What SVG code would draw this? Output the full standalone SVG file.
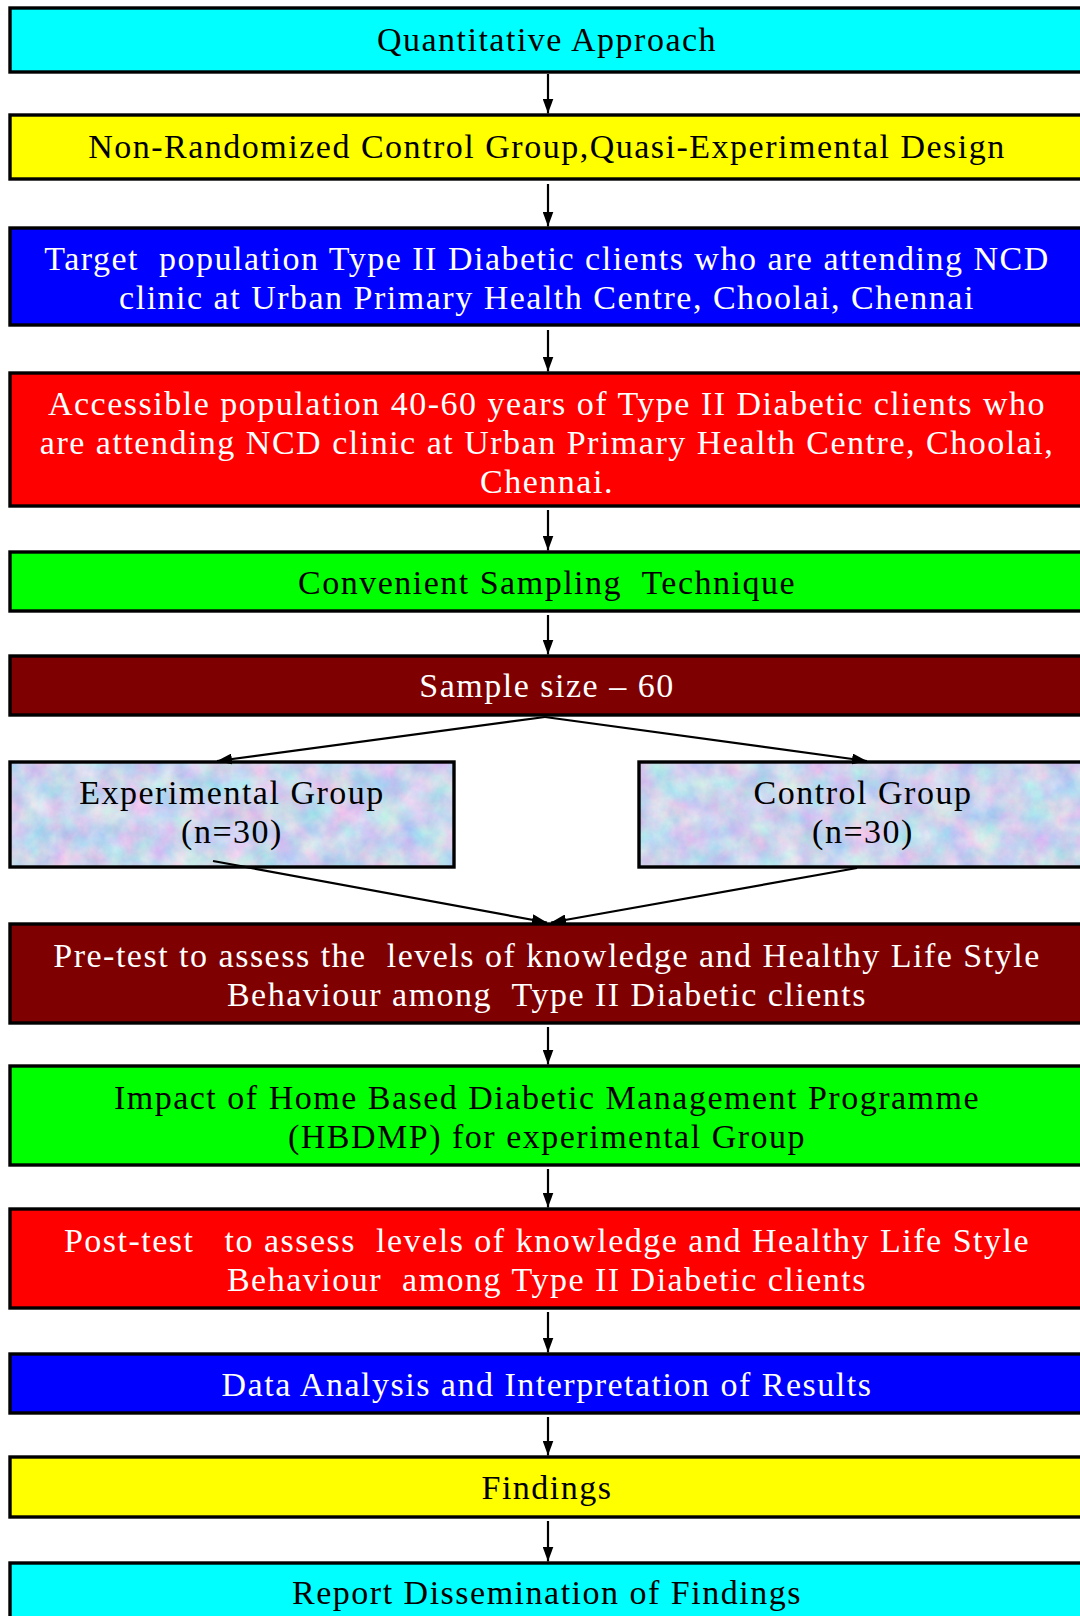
<svg xmlns="http://www.w3.org/2000/svg" width="1080" height="1616" viewBox="0 0 1080 1616">
<style>
.b{stroke:#000;stroke-width:3.4}
.t{font-family:"Liberation Serif","Times New Roman",serif;font-size:34px;letter-spacing:1.5px;text-anchor:middle;white-space:pre}
.w{fill:#fff}
.k{fill:#000}
.c line{stroke:#000;stroke-width:2.2;marker-end:url(#ah)}
</style>
<defs>
<marker id="ah" viewBox="0 0 15 11" refX="15" refY="5.5" markerWidth="15" markerHeight="11" markerUnits="userSpaceOnUse" orient="auto">
<path d="M0,0 L15,5.5 L0,11 z" fill="#000"/>
</marker>
<filter id="marble" x="0" y="0" width="100%" height="100%" color-interpolation-filters="sRGB">
<feTurbulence type="fractalNoise" baseFrequency="0.04" numOctaves="5" seed="7" result="n"/>
<feColorMatrix in="n" type="matrix" values="0.45 0 0 0 0.57  0 0.3 0 0 0.68  0 0 0.1 0 0.88  0 0 0 0 1"/>
</filter>
</defs>
<rect width="1080" height="1616" fill="#fff"/>

<g id="n1"><rect class="b" x="10" y="8" width="1090" height="64" fill="#00ffff"/>
<text class="t k" x="547" y="51">Quantitative Approach</text></g>

<g id="n2"><rect class="b" x="10" y="115" width="1090" height="64" fill="#ffff00"/>
<text class="t k" x="547" y="158">Non-Randomized Control Group,Quasi-Experimental Design</text></g>

<g id="n3"><rect class="b" x="10" y="228" width="1090" height="97" fill="#0000ff"/>
<text class="t w" x="547" y="270">Target  population Type II Diabetic clients who are attending NCD</text>
<text class="t w" x="547" y="309">clinic at Urban Primary Health Centre, Choolai, Chennai</text></g>

<g id="n4"><rect class="b" x="10" y="373" width="1090" height="133" fill="#ff0000"/>
<text class="t w" x="547" y="415">Accessible population 40-60 years of Type II Diabetic clients who</text>
<text class="t w" x="547" y="454">are attending NCD clinic at Urban Primary Health Centre, Choolai,</text>
<text class="t w" x="547" y="493">Chennai.</text></g>

<g id="n5"><rect class="b" x="10" y="552" width="1090" height="59" fill="#00ff00"/>
<text class="t k" x="547" y="594">Convenient Sampling  Technique</text></g>

<g id="n6"><rect class="b" x="10" y="656" width="1090" height="59" fill="#7f0000"/>
<text class="t w" x="547" y="697">Sample size – 60</text></g>

<g id="n7"><rect x="10" y="762" width="444" height="105" fill="#c8daf2" filter="url(#marble)"/>
<rect class="b" x="10" y="762" width="444" height="105" fill="none"/>
<text class="t k" x="232" y="804">Experimental Group</text>
<text class="t k" x="232" y="843">(n=30)</text></g>

<g id="n8"><rect x="639" y="762" width="460" height="105" fill="#c8daf2" filter="url(#marble)"/>
<rect class="b" x="639" y="762" width="460" height="105" fill="none"/>
<text class="t k" x="863" y="804">Control Group</text>
<text class="t k" x="863" y="843">(n=30)</text></g>

<g id="n9"><rect class="b" x="10" y="924" width="1090" height="99" fill="#7f0000"/>
<text class="t w" x="547" y="967">Pre-test to assess the  levels of knowledge and Healthy Life Style</text>
<text class="t w" x="547" y="1006">Behaviour among  Type II Diabetic clients</text></g>

<g id="n10"><rect class="b" x="10" y="1066" width="1090" height="99" fill="#00ff00"/>
<text class="t k" x="547" y="1109">Impact of Home Based Diabetic Management Programme</text>
<text class="t k" x="547" y="1148">(HBDMP) for experimental Group</text></g>

<g id="n11"><rect class="b" x="10" y="1209" width="1090" height="99" fill="#ff0000"/>
<text class="t w" x="547" y="1252">Post-test   to assess  levels of knowledge and Healthy Life Style</text>
<text class="t w" x="547" y="1291">Behaviour  among Type II Diabetic clients</text></g>

<g id="n12"><rect class="b" x="10" y="1354" width="1090" height="59" fill="#0000ff"/>
<text class="t w" x="547" y="1396">Data Analysis and Interpretation of Results</text></g>

<g id="n13"><rect class="b" x="10" y="1457" width="1090" height="60" fill="#ffff00"/>
<text class="t k" x="547" y="1499">Findings</text></g>

<g id="n14"><rect class="b" x="10" y="1563" width="1090" height="80" fill="#00ffff"/>
<text class="t k" x="547" y="1604">Report Dissemination of Findings</text></g>

<g id="connectors" class="c">
<line x1="548" y1="74" x2="548" y2="113.5"/>
<line x1="548" y1="184" x2="548" y2="226.5"/>
<line x1="548" y1="330" x2="548" y2="371.5"/>
<line x1="548" y1="510" x2="548" y2="550.5"/>
<line x1="548" y1="615" x2="548" y2="654.5"/>
<line x1="545" y1="717" x2="217" y2="761"/>
<line x1="545" y1="717" x2="867" y2="761"/>
<line x1="213" y1="861" x2="547" y2="922.5"/>
<line x1="857" y1="868" x2="551" y2="922.5"/>
<line x1="548" y1="1027" x2="548" y2="1064.5"/>
<line x1="548" y1="1169" x2="548" y2="1207.5"/>
<line x1="548" y1="1312" x2="548" y2="1352.5"/>
<line x1="548" y1="1417" x2="548" y2="1455.5"/>
<line x1="548" y1="1521" x2="548" y2="1561.5"/>
</g>
</svg>
